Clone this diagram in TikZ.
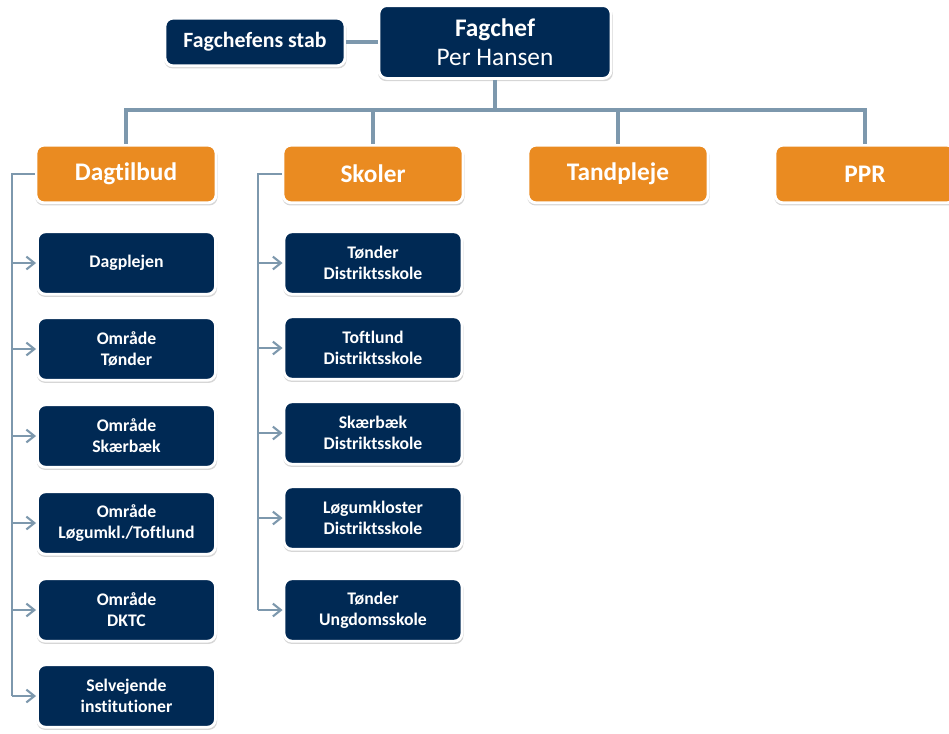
\documentclass[tikz,border=0pt]{standalone}
\usepackage{fontspec}
\setmainfont[Ligatures=NoCommon]{Carlito}
\usetikzlibrary{positioning, arrows.meta, calc, shadows}
\definecolor{navy}{RGB}{0,41,84}
\definecolor{orng}{RGB}{234,139,33}
\definecolor{lnc}{RGB}{125,152,173}

\begin{document}
\begin{tikzpicture}[x=0.025cm,y=-0.025cm,>={Straight Barb[length=2mm,width=3.2mm]},
  b/.style={draw=white,line width=2pt,rounded corners=0.2cm,fill=navy,text=white,align=center,
    drop shadow={shadow xshift=0.3pt,shadow yshift=-1.6pt,shadow scale=1.012,fill=black!40,opacity=.4}},
  boss/.style={b,minimum width=5.8cm,minimum height=1.82cm,font=\fontsize{18}{21}\selectfont},
  stab/.style={b,minimum width=4.5cm,minimum height=1.19cm,font=\fontsize{15.5}{18}\selectfont\bfseries},
  o/.style={b,fill=orng,minimum width=4.5cm,minimum height=1.44cm,font=\fontsize{18}{21}\selectfont\bfseries},
  c/.style={b,minimum width=4.45cm,minimum height=1.56cm,font=\fontsize{12.6}{15}\selectfont\bfseries},
  ln/.style={draw=lnc,line width=2.4pt},
  tl/.style={draw=lnc,line width=1.5pt}]
  \useasboundingbox (0,0) rectangle (949,733);
  % top
  \node[boss](chef) at (495,42){\textbf{Fagchef}\\Per Hansen};
  \node[stab](stab) at (255,42){Fagchefens stab};
  \draw[ln](stab)--(chef);
  % afdelinger
  \node[o](dag) at (126,174){Dagtilbud};
  \node[o](sko) at (373,174){Skoler};
  \node[o](tand) at (618,174){Tandpleje};
  \node[o](ppr) at (865,174){PPR};
  \coordinate (bus) at (495,110);
  \draw[ln](chef)--(bus);
  \foreach \n in {dag,sko,tand,ppr} \draw[ln](bus)-|(\n.north);
  % dagtilbud
  \node[c](d1) at (126.5,263){Dagplejen};
  \node[c](d2) at (126.5,349){Område\\Tønder};
  \node[c](d3) at (126.5,436){Område\\Skærbæk};
  \node[c](d4) at (126.5,523){Område\\Løgumkl./Toftlund};
  \node[c](d5) at (126.5,610){Område\\DKTC};
  \node[c](d6) at (126.5,696){Selvejende\\institutioner};
  \coordinate (dsp) at (12,174);
  \draw[tl](dag.west)--(dsp)--(dsp|-d6.west);
  \foreach \i in {1,...,6} \draw[tl,->](dsp|-d\i.west)--(d\i.west);
  % skoler
  \node[c](s1) at (373,263){Tønder\\Distriktsskole};
  \node[c](s2) at (373,348){Toftlund\\Distriktsskole};
  \node[c](s3) at (373,433){Skærbæk\\Distriktsskole};
  \node[c](s4) at (373,518){Løgumkloster\\Distriktsskole};
  \node[c](s5) at (373,610){Tønder\\Ungdomsskole};
  \coordinate (ssp) at (258,174);
  \draw[tl](sko.west)--(ssp)--(ssp|-s5.west);
  \foreach \i in {1,...,5} \draw[tl,->](ssp|-s\i.west)--(s\i.west);
\end{tikzpicture}
\end{document}
